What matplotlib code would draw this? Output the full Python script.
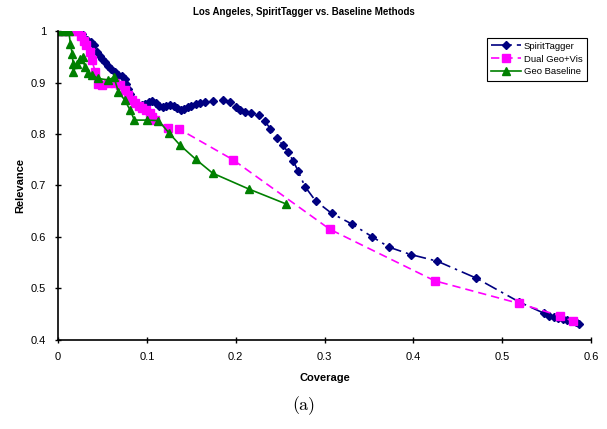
import matplotlib
matplotlib.use('Agg')
import matplotlib.pyplot as plt

# SpiritTagger (navy diamonds, dash-dot)
spirit_x = [0.0, 0.012, 0.022, 0.027, 0.029, 0.033, 0.037, 0.041, 0.044, 0.047,
            0.05, 0.053, 0.056, 0.06, 0.064, 0.068, 0.072, 0.075, 0.077, 0.079,
            0.081, 0.083, 0.086, 0.09, 0.094, 0.098, 0.102, 0.106, 0.11, 0.114,
            0.118, 0.122, 0.126, 0.13, 0.134, 0.138, 0.142, 0.146, 0.15, 0.155,
            0.16, 0.166, 0.175, 0.186, 0.194, 0.2, 0.205, 0.211, 0.217, 0.226,
            0.233, 0.239, 0.247, 0.253, 0.259, 0.265, 0.27, 0.278, 0.29, 0.308,
            0.331, 0.354, 0.373, 0.397, 0.427, 0.471, 0.519, 0.547, 0.553, 0.558,
            0.563, 0.568, 0.573, 0.578, 0.583, 0.587]
spirit_y = [1.0, 1.0, 1.0, 0.995, 0.985, 0.982, 0.978, 0.972, 0.96, 0.952,
            0.946, 0.94, 0.932, 0.926, 0.92, 0.915, 0.912, 0.906, 0.898, 0.888,
            0.878, 0.868, 0.86, 0.856, 0.856, 0.858, 0.862, 0.864, 0.86, 0.855,
            0.853, 0.855, 0.857, 0.855, 0.851, 0.847, 0.848, 0.852, 0.855, 0.858,
            0.861, 0.863, 0.865, 0.866, 0.862, 0.853, 0.846, 0.843, 0.84, 0.836,
            0.825, 0.81, 0.792, 0.778, 0.765, 0.747, 0.729, 0.698, 0.67, 0.646,
            0.625, 0.6, 0.58, 0.566, 0.553, 0.52, 0.474, 0.452, 0.447, 0.444,
            0.442, 0.44, 0.438, 0.436, 0.434, 0.432]

# Dual Geo+Vis (magenta squares, dashed)
dual_x = [0.0, 0.006, 0.012, 0.018, 0.023, 0.026, 0.029, 0.032, 0.036, 0.038,
          0.042, 0.045, 0.05, 0.056, 0.064, 0.07, 0.075, 0.079, 0.083, 0.087,
          0.091, 0.095, 0.099, 0.103, 0.106, 0.109, 0.124, 0.136, 0.197, 0.306,
          0.424, 0.519, 0.565, 0.58]
dual_y = [1.0, 1.0, 1.0, 1.0, 1.0, 0.99, 0.98, 0.972, 0.96, 0.944,
          0.92, 0.898, 0.895, 0.9, 0.9, 0.896, 0.885, 0.875, 0.866, 0.86,
          0.855, 0.85, 0.846, 0.84, 0.833, 0.828, 0.812, 0.81, 0.75, 0.615,
          0.515, 0.471, 0.447, 0.436]

# Geo Baseline (green triangles, solid)
geo_x = [0.0, 0.004, 0.008, 0.012, 0.014, 0.016, 0.017, 0.017, 0.021, 0.025,
         0.028, 0.03, 0.034, 0.038, 0.045, 0.056, 0.063, 0.068, 0.075, 0.081,
         0.086, 0.1, 0.113, 0.125, 0.137, 0.155, 0.174, 0.215, 0.257]
geo_y = [1.0, 1.0, 1.0, 1.0, 0.975, 0.955, 0.935, 0.92, 0.935, 0.945,
         0.95, 0.93, 0.918, 0.915, 0.908, 0.905, 0.91, 0.882, 0.866, 0.847,
         0.827, 0.827, 0.826, 0.802, 0.779, 0.751, 0.724, 0.693, 0.664]

x_ticks = [0, 0.1, 0.2, 0.3, 0.4, 0.5, 0.6]
x_labels = ['0', '0.1', '0.2', '0.3', '0.4', '0.5', '0.6']
y_ticks = [0.4, 0.5, 0.6, 0.7, 0.8, 0.9, 1.0]
y_labels = ['0.4', '0.5', '0.6', '0.7', '0.8', '0.9', '1']

plt.rcParams['font.family'] = ['Liberation Sans', 'DejaVu Sans']

fig = plt.figure(figsize=(6.07, 4.29), dpi=100)
ax = fig.add_axes([0.0956, 0.2075, 0.878, 0.7202])

ax.plot(spirit_x, spirit_y, color='#000080', linestyle=(0, (8, 3, 1.5, 3)), lw=1.2,
        marker='D', ms=4, label='SpiritTagger')
ax.plot(dual_x, dual_y, color='#FF00FF', linestyle=(0, (5, 3)), lw=1.2,
        marker='s', ms=5.5, label='Dual Geo+Vis')
ax.plot(geo_x, geo_y, color='#008000', linestyle='-', lw=1.2,
        marker='^', ms=6, label='Geo Baseline')

ax.set_xlim(0, 0.6)
ax.set_ylim(0.4, 1.0)
ax.set_xticks(x_ticks)
ax.set_xticklabels(x_labels)
ax.set_yticks(y_ticks)
ax.set_yticklabels(y_labels)
ax.tick_params(direction='inout', length=5, width=1, labelsize=8, pad=6)
for side in ['top', 'right']:
    ax.spines[side].set_visible(False)
for side in ['left', 'bottom']:
    ax.spines[side].set_linewidth(1.2)

ax.set_xlabel('Coverage', fontsize=8, fontweight='bold', labelpad=8)
ax.set_ylabel('Relevance', fontsize=8, fontweight='bold', labelpad=4)
fig.text(0.5, 0.972, 'Los Angeles, SpiritTagger vs. Baseline Methods',
         ha='center', va='center', fontsize=7, fontweight='bold')

leg = ax.legend(loc='upper right', bbox_to_anchor=(0.996, 0.985), fontsize=6.8,
                frameon=True, fancybox=False, edgecolor='black', framealpha=1,
                handlelength=3.2, borderpad=0.45, labelspacing=0.4, handletextpad=0.3,
                borderaxespad=0.2)
leg.get_frame().set_linewidth(0.8)

fig.text(0.5, 0.055, '(a)', ha='center', va='center', fontsize=13, family='cmr10')

fig.savefig('out.png', dpi=100)
